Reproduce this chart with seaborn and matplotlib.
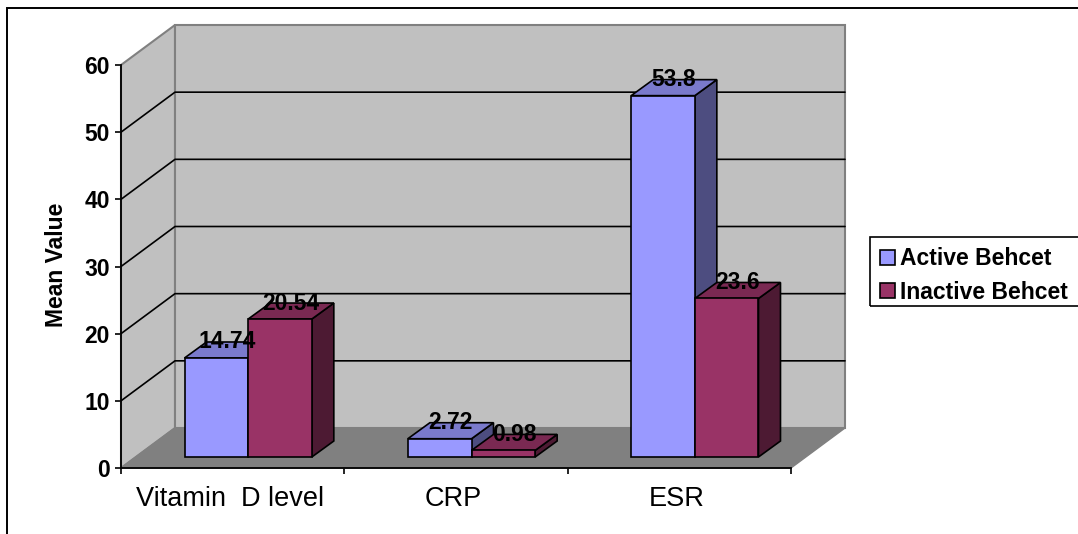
import matplotlib
matplotlib.use("Agg")
import pandas as pd
import seaborn as sns
import matplotlib.pyplot as plt
from matplotlib.patches import Polygon, Rectangle
from matplotlib.transforms import Affine2D
from matplotlib.lines import Line2D

categories = ["Vitamin  D level", "CRP", "ESR"]
active = [14.74, 2.72, 53.8]
inactive = [20.54, 0.98, 23.6]
series_names = ["Active Behcet", "Inactive Behcet"]
y_ticks = [0, 10, 20, 30, 40, 50, 60]

W, H = 1078, 534

# front, side and top shades for each series
front_colors = ["#9999FF", "#993366"]
side_colors = ["#4D4D80", "#4D1A33"]
top_colors = ["#7A7ACC", "#7A2952"]

sns.set_theme(style="white")
plt.rcParams["font.family"] = ["Liberation Sans", "DejaVu Sans"]

df = pd.DataFrame({
    "category": categories * 2,
    "value": active + inactive,
    "series": [series_names[0]] * 3 + [series_names[1]] * 3,
})

fig = plt.figure(figsize=(W / 100, H / 100), dpi=100)
ax = fig.add_axes([121 / W, 1 - 468 / H, 670 / W, 403 / H])

sns.barplot(data=df, x="category", y="value", hue="series", order=categories,
            hue_order=series_names, palette=front_colors, saturation=1,
            width=0.57, gap=0, edgecolor="black", linewidth=1.2, ax=ax, zorder=5)

ax.set_xlim(-0.5, 2.5)
ax.set_ylim(0, 60)
ax.set_yticks(y_ticks)


def to_pixels(x, y):
    return ax.transData.transform((x, y))


# wall depth and bar depth in pixels
wall_shift = (54, 40)
bar_shift = (15.5, 11)
depth = (22, 16)

x0, x1 = ax.get_xlim()
y0, y1 = ax.get_ylim()
identity = Affine2D()
p00 = to_pixels(x0, y0)
p01 = to_pixels(x0, y1)
p10 = to_pixels(x1, y0)
p11 = to_pixels(x1, y1)


def add(pts, color, edge, lw=1.2, z=1):
    ax.add_patch(Polygon(pts, closed=True, facecolor=color, edgecolor=edge, linewidth=lw,
                         transform=identity, clip_on=False, zorder=z))


add([p00, p01, p01 + wall_shift, p00 + wall_shift], "#C0C0C0", "#808080", 1.5)
add([p00 + wall_shift, p01 + wall_shift, p11 + wall_shift, p10 + wall_shift], "#C0C0C0", "#808080", 1.5)
add([p00, p10, p10 + wall_shift, p00 + wall_shift], "#808080", "#808080", 1)

for tick in y_ticks[1:-1]:
    a = to_pixels(x0, tick)
    b = a + wall_shift
    c = to_pixels(x1, tick) + wall_shift
    ax.add_line(Line2D([a[0], b[0], c[0]], [a[1], b[1], c[1]], color="black", lw=1.2,
                       transform=identity, clip_on=False, zorder=2))

# move the seaborn bars back from the front plane and give them side and top faces
for i, container in enumerate(ax.containers):
    values = df[df["series"] == series_names[i]]["value"]
    for bar, value in zip(container.patches, values):
        bar.set_transform(ax.transData + Affine2D().translate(*bar_shift))
        bar.set_clip_on(False)
        bar.set_zorder(5 + i * 2)
        right = to_pixels(bar.get_x() + bar.get_width(), 0) + bar_shift
        top_l = to_pixels(bar.get_x(), value) + bar_shift
        top_r = to_pixels(bar.get_x() + bar.get_width(), value) + bar_shift
        add([right, top_r, top_r + depth, right + depth], side_colors[i], "black", 1.2, 4 + i * 2)
        add([top_l, top_r, top_r + depth, top_l + depth], top_colors[i], "black", 1.2, 4 + i * 2)
        label_at = (top_l + top_r) / 2 + (depth[0] / 2, depth[1])
        ax.annotate(f"{value:g}", xy=label_at, xycoords="figure pixels",
                    ha="center", va="center", fontsize=16.5, fontweight="bold",
                    color="black", zorder=20, annotation_clip=False)

sns.despine(ax=ax, top=True, right=True)
for side in ["left", "bottom"]:
    ax.spines[side].set_color("black")
    ax.spines[side].set_linewidth(1.3)
    ax.spines[side].set_zorder(3)

ax.set_xlabel("")
ax.set_ylabel("Mean Value", fontsize=16.5, fontweight="bold", color="black")
ax.yaxis.set_label_coords(-0.079, 0.504)
ax.tick_params(axis="y", left=True, length=4, width=1.2, color="black", pad=4)
ax.tick_params(axis="x", bottom=False, pad=6.6)
ax.set_xticks([x0, x0 + 1.0, x0 + 2.0, x0 + 3.0], minor=True)
ax.tick_params(axis="x", which="minor", bottom=True, length=4, width=1.2, color="black")
for lab in ax.get_yticklabels():
    lab.set_fontsize(16.5)
    lab.set_fontweight("bold")
    lab.set_color("black")
for lab in ax.get_xticklabels():
    lab.set_fontsize(19.5)
    lab.set_color("black")
    lab.set_transform(lab.get_transform() + Affine2D().translate(-3, 0))

handles, labels = ax.get_legend_handles_labels()
ax.get_legend().remove()
leg = fig.legend(handles, labels, loc="upper left", bbox_to_anchor=(870 / W, 1 - 237 / H),
                 frameon=False, borderaxespad=0, borderpad=0.45, labelspacing=0.46,
                 handlelength=0.62, handleheight=0.62, handletextpad=0.23,
                 labelcolor="black", prop={"size": 16.5, "weight": "bold"})

# legend box runs off the right edge, so it is drawn on its own
fig.add_artist(Rectangle((870 / W, 1 - 306 / H), 0.3, 69 / H, transform=fig.transFigure,
                         facecolor="none", edgecolor="black", linewidth=1.2))

# chart area outline, open towards the right and bottom edges of the crop
fig.add_artist(Rectangle((7 / W, -0.1), 1.2, 1.1 - 8 / H, transform=fig.transFigure,
                         facecolor="none", edgecolor="black", linewidth=1.4))

fig.savefig("out.png", dpi=100)
